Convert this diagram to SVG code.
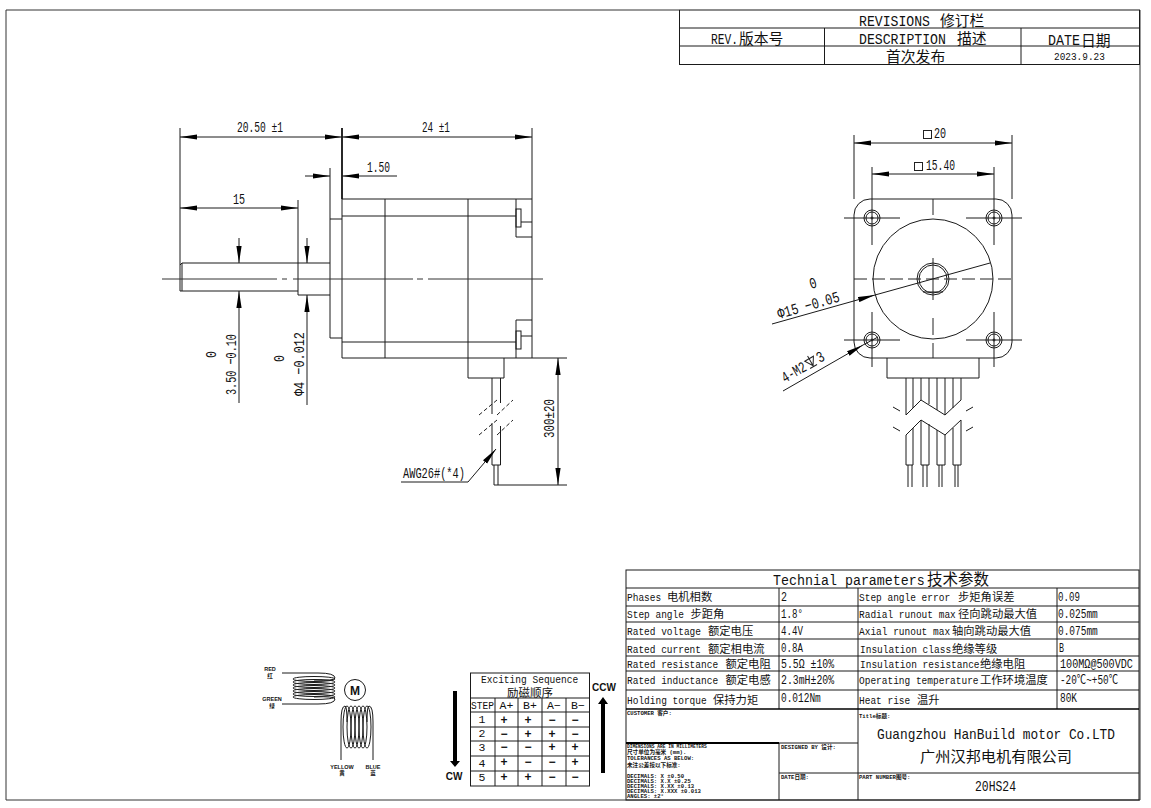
<svg xmlns="http://www.w3.org/2000/svg" width="1151" height="808" viewBox="0 0 1151 808">
<style>
text{fill:#111}
.l,.l line,.l path,.l rect,.l circle,.l ellipse{stroke:#1a1a1a;stroke-width:1;fill:none}
.g line,.g rect,.g path{stroke:#333;stroke-width:1;fill:none}
.b{stroke:#111;stroke-width:1.8;fill:none}
.d{stroke:#222;stroke-width:1;fill:none;stroke-dasharray:4 2.5}
.m{font-family:'Liberation Mono','Noto Sans CJK SC',monospace}
.c{font-family:'Noto Sans CJK SC',sans-serif}
.s{font-family:'Liberation Sans','Noto Sans CJK SC',sans-serif}
.r{font-size:15.500px}
.rc{font-size:14.800px}
.p{font-size:11.500px}
.pc{font-size:11.300px}
.v{font-size:12px}
.q{font-size:15.500px}
.t{font-size:5.600px;font-weight:700}
.k{font-size:5.500px;font-weight:700;text-anchor:middle}
.e{font-size:12px;font-weight:700;text-anchor:middle}
.f{font-size:11.500px;text-anchor:middle}
</style>
<defs>
<marker id="a" markerWidth="17" markerHeight="6" refX="17" refY="3" orient="auto-start-reverse" markerUnits="userSpaceOnUse"><path d="M0,0.400L17,3L0,5.600z" fill="#000"/></marker>
</defs>
<rect width="1151" height="808" fill="#fff"/>

<g id="frame" class="g">
<path d="M679,10H6V800H1140V10"/>
</g>

<g id="revisions">
<g class="l">
<rect x="679.500" y="10" width="460" height="54.500"/>
<line x1="680" y1="28" x2="1139" y2="28"/>
<line x1="680" y1="46" x2="1139" y2="46"/>
<line x1="824.500" y1="28" x2="824.500" y2="64"/>
<line x1="1021" y1="28" x2="1021" y2="64"/>
</g>
<text class="m r" transform="translate(859,26) scale(.848,1)">REVISIONS</text><text class="c rc" x="940" y="25.500">修订栏</text>
<text class="m r" transform="translate(711,43.500) scale(.726,1)">REV.</text><text class="c rc" x="739" y="43.500" font-size="15.500">版本号</text>
<text class="m r" transform="translate(859,43.500) scale(.85,1)">DESCRIPTION</text><text class="c rc" x="957" y="43.500">描述</text>
<text class="m r" transform="translate(1048,45) scale(.86,1)">DATE</text><text class="c rc" x="1081" y="45.500">日期</text>
<text class="c rc" x="886" y="62">首次发布</text>
<text class="m" font-size="11.500" transform="translate(1054,60) scale(.82,1)">2023.9.23</text>
</g>

<g id="side-view">
<g class="l">
<path d="M180,128V291M182,263V291M180,265L182,263M182,263H330M180,291H298M298,200V295H330"/>
<path d="M330,168V338H342M330,219H342"/>
<path d="M342,199V358M342,199H532M532,128V358M342,358H567"/>
<path d="M342,216H516M342,342H516M385,199V358M468,199V378M516,199V237H532M516,320V358M516,320H532"/>
<rect x="516" y="209" width="5" height="18"/><rect x="516" y="331" width="5" height="18"/>
<path d="M521,222H532M521,336H532"/>
<path d="M468,378H504V358"/>
<path d="M492,378V414M500.500,378V403M492,423V465M500.500,426V465M492,465H500.500"/>
<path d="M494,465V485M498,465V485M494,485H567"/>
</g>
<line class="b" x1="342" y1="128" x2="342" y2="199"/>
<path d="M162,279H277M282,279H287M293,279H413M417,279H423M428,279H543" stroke="#333" fill="none"/>
<path class="d" d="M479,415L497,400M497,415L513,400M479,435L497,420M497,435L513,420"/>
</g>

<g id="front-view">
<g class="l">
<path d="M870,199H996A16,16 0 0 1 1012,215V342A16,16 0 0 1 996,358H870A16,16 0 0 1 854,342V215A16,16 0 0 1 870,199Z"/>
<circle cx="933" cy="279" r="60"/><circle cx="933" cy="279" r="16"/><circle cx="933" cy="279" r="14"/>
<line x1="923" y1="292" x2="943" y2="292"/>
<circle cx="872" cy="218" r="8"/><circle cx="872" cy="218" r="6"/><circle cx="872" cy="218" r="1"/>
<circle cx="994" cy="218" r="8"/><circle cx="994" cy="218" r="6"/><circle cx="994" cy="218" r="1"/>
<circle cx="872" cy="340" r="8"/><circle cx="872" cy="340" r="6"/><circle cx="872" cy="340" r="1"/>
<circle cx="994" cy="340" r="8"/><circle cx="994" cy="340" r="6"/><circle cx="994" cy="340" r="1"/>
<path d="M844,218H900M966,218H1022M844,340H900M966,340H1022M872,167V245M994,167V245M872,312V367M994,312V367"/>
<path d="M887,358V378H979V358"/>
<path d="M906,378V415M913,378V408M921,378V400M929,378V404M937,378V410M945,378V415M953,378V408M961,378V400"/>
<path d="M906,415L921,400L945,415L961,400M906,435L921,420L945,435L961,420"/>
<path d="M906,435V465M913,428V465M921,420V465M929,424V465M937,430V465M945,435V465M953,428V465M961,420V465"/>
<path d="M906,465H913M921,465H929M937,465H945M953,465H961"/>
<path d="M908,465V487M912,465V487M923,465V487M927,465V487M939,465V487M942,465V487M955,465V487M958,465V487"/>
<path d="M893,407L900,411M973,407L966,411M893,427L900,431M973,427L966,431"/>
</g>
<path d="M854,279H1012" stroke="#222" fill="none" stroke-dasharray="13 5"/>
<path d="M933,199V215M933,258V300M933,318V335M933,343V358" stroke="#222" fill="none"/>
</g>

<g id="connectors" class="l">
<line x1="180" y1="137" x2="342" y2="137" marker-start="url(#a)" marker-end="url(#a)"/>
<line x1="342" y1="137" x2="532" y2="137" marker-start="url(#a)" marker-end="url(#a)"/>
<line x1="180" y1="208" x2="298" y2="208" marker-start="url(#a)" marker-end="url(#a)"/>
<line x1="305" y1="176" x2="330" y2="176" marker-end="url(#a)"/>
<line x1="397" y1="176" x2="342" y2="176" marker-end="url(#a)"/>
<line x1="239" y1="238" x2="239" y2="263" marker-end="url(#a)"/>
<line x1="239" y1="403" x2="239" y2="291" marker-end="url(#a)"/>
<line x1="307" y1="238" x2="307" y2="263" marker-end="url(#a)"/>
<line x1="307" y1="405" x2="307" y2="295" marker-end="url(#a)"/>
<line x1="558" y1="358" x2="558" y2="485" marker-start="url(#a)" marker-end="url(#a)"/>
<path d="M401,482H468L496,449" marker-end="url(#a)"/>
<line x1="854" y1="143" x2="1012" y2="143" marker-start="url(#a)" marker-end="url(#a)"/>
<line x1="872" y1="174" x2="994" y2="174" marker-start="url(#a)" marker-end="url(#a)"/>
<path d="M854,135V199M1012,135V199"/>
<line x1="772" y1="324" x2="875" y2="295" marker-end="url(#a)"/>
<line x1="875" y1="295" x2="990" y2="263"/>
<line x1="783" y1="391" x2="863" y2="345" marker-end="url(#a)"/>
<line x1="863" y1="345" x2="878" y2="337"/>
</g>

<g id="dimensions">
<text class="m q" transform="translate(237,132) scale(.62,1)">20.50 ±1</text>
<text class="m q" transform="translate(422,132) scale(.6,1)">24 ±1</text>
<text class="m q" transform="translate(367,172) scale(.62,1)">1.50</text>
<text class="m q" transform="translate(233,204) scale(.65,1)">15</text>
<text class="m q" transform="translate(216,358) rotate(-90) scale(.75,1)">0</text>
<text class="m q" transform="translate(236,395) rotate(-90) scale(.656,1)">3.50 −0.10</text>
<text class="m q" transform="translate(284,362) rotate(-90) scale(.75,1)">0</text>
<text class="m q" transform="translate(304,396) rotate(-90) scale(.765,1)">Φ4 −0.012</text>
<text class="m q" transform="translate(554,438) rotate(-90) scale(.7,1)">300±20</text>
<text class="m q" transform="translate(403,478) scale(.667,1)">AWG26#(*4)</text>
<rect x="923.500" y="130.500" width="8" height="8" fill="none" stroke="#222"/>
<text class="m q" transform="translate(934,138) scale(.65,1)">20</text>
<rect x="914.500" y="162.500" width="8" height="8" fill="none" stroke="#222"/>
<text class="m q" transform="translate(926,170) scale(.624,1)">15.40</text>
<text class="m q" transform="translate(811,289) rotate(-16) scale(.75,1)">0</text>
<text class="m q" transform="translate(779,319) rotate(-16) scale(.765,1)">Φ15 −0.05</text>
<g transform="translate(785,383) rotate(-30)">
<text class="m q" transform="scale(.7,1)">4-M2</text>
<path d="M28,-9H38L33,-1ZM33,-12V-1M29,0H37" fill="none" stroke="#222"/>
<text class="m q" transform="translate(40,0) scale(.75,1)">3</text>
</g>
</g>

<g id="coil">
<g class="l">
<path d="M282,673H318Q335,673 335,678Q335,681 314,680"/>
<ellipse cx="314" cy="679" rx="21" ry="2.500"/><ellipse cx="314" cy="682" rx="21" ry="2.500"/><ellipse cx="314" cy="685" rx="21" ry="2.500"/><ellipse cx="314" cy="688" rx="21" ry="2.500"/><ellipse cx="314" cy="691" rx="21" ry="2.500"/><ellipse cx="314" cy="694" rx="21" ry="2.500"/><ellipse cx="314" cy="697" rx="21" ry="2.500"/>
<path d="M282,704H318Q335,704 335,699Q335,696 314,697"/>
<circle cx="355" cy="690" r="10.500"/>
<path d="M341,760V722Q341,706 345,706Q347,706 347,722"/>
<ellipse cx="347" cy="727" rx="4" ry="21"/><ellipse cx="351" cy="727" rx="4" ry="21"/><ellipse cx="355" cy="727" rx="4" ry="21"/><ellipse cx="359" cy="727" rx="4" ry="21"/><ellipse cx="363" cy="727" rx="4" ry="21"/><ellipse cx="367" cy="727" rx="4" ry="21"/>
<path d="M373,760V722Q373,706 369,706Q367,706 367,722"/>
</g>
<text class="s" font-size="12" font-weight="700" text-anchor="middle" x="355" y="694.500">M</text>
<text class="s k" x="270" y="671">RED</text><text class="s k" x="270" y="678">红</text>
<text class="s k" x="272" y="701">GREEN</text><text class="s k" x="272" y="708">绿</text>
<text class="s k" x="342" y="769">YELLOW</text><text class="s k" x="342" y="775">黄</text>
<text class="s k" x="373" y="769">BLUE</text><text class="s k" x="373" y="775">蓝</text>
</g>

<g id="sequence">
<g class="l">
<rect x="470.500" y="673" width="119" height="113"/>
<path d="M470,698H590M470,712H590M470,727H590M470,741H590M470,756H590M470,771H590M495,698V786M518,698V786M542,698V786M566,698V786"/>
</g>
<path d="M453,691H457V761H460L455,767L450,761H453Z" fill="#000"/>
<path d="M601,773H605V704H608L603,697L598,704H601Z" fill="#000"/>
<text class="s" font-size="10" font-weight="700" text-anchor="middle" x="454" y="780">CW</text>
<text class="s" font-size="10" font-weight="700" text-anchor="middle" x="604" y="691">CCW</text>
<text class="m" font-size="11.500" transform="translate(481,683) scale(.83,1)">Exciting Sequence</text>
<text class="c" font-size="11.500" text-anchor="middle" x="530" y="697">励磁顺序</text>
<text class="m" font-size="11.500" transform="translate(471,709) scale(.83,1)">STEP</text>
<text class="m f" x="506.500" y="709">A+</text><text class="m f" x="530" y="709">B+</text><text class="m f" x="554" y="709">A−</text><text class="m f" x="578" y="709">B−</text>
<text class="m f" x="482" y="723">1</text><text class="m f" x="482" y="737">2</text><text class="m f" x="482" y="751">3</text><text class="m f" x="482" y="767">4</text><text class="m f" x="482" y="781">5</text>
<g class="s">
<text class="e" x="504" y="724">+</text><text class="e" x="528" y="724">+</text><text class="e" x="552" y="724">−</text><text class="e" x="575" y="724">−</text>
<text class="e" x="504" y="738">−</text><text class="e" x="528" y="738">+</text><text class="e" x="552" y="738">+</text><text class="e" x="575" y="738">−</text>
<text class="e" x="504" y="751">−</text><text class="e" x="528" y="751">−</text><text class="e" x="552" y="751">+</text><text class="e" x="575" y="751">+</text>
<text class="e" x="504" y="766">+</text><text class="e" x="528" y="766">−</text><text class="e" x="552" y="766">−</text><text class="e" x="575" y="766">+</text>
<text class="e" x="504" y="781">+</text><text class="e" x="528" y="781">+</text><text class="e" x="552" y="781">−</text><text class="e" x="575" y="781">−</text>
</g>
</g>

<g id="parameters">
<g class="l">
<rect x="626" y="570" width="513" height="230"/>
<path d="M626,588H1139M626,606H1139M626,622H1139M626,639H1139M626,656H1139M626,671H1139M626,690H1139M779,588V709M858,588V800M1057,588V709"/>
<path d="M779,743V800M779,773H1139M779,743H858"/>
</g>
<path d="M626,709H1139" stroke="#000" stroke-width="1.500"/>
<path d="M626,743H779" stroke="#000" stroke-width="1.800"/>
<text class="m" font-size="15.500" transform="translate(773,585) scale(.86,1)">Technial parameters</text><text class="c" font-size="15.500" x="927" y="585">技术参数</text>

<text class="m p" transform="translate(627,601) scale(.826,1)">Phases</text><text class="c pc" x="667" y="601">电机相数</text>
<text class="m p" transform="translate(627,618) scale(.826,1)">Step angle</text><text class="c pc" x="690.500" y="618">步距角</text>
<text class="m p" transform="translate(627,635) scale(.826,1)">Rated voltage</text><text class="c pc" x="708" y="635">额定电压</text>
<text class="m p" transform="translate(627,653) scale(.826,1)">Rated current</text><text class="c pc" x="708" y="653">额定相电流</text>
<text class="m p" transform="translate(627,668) scale(.826,1)">Rated resistance</text><text class="c pc" x="725.500" y="668">额定电阻</text>
<text class="m p" transform="translate(627,684) scale(.826,1)">Rated inductance</text><text class="c pc" x="725.500" y="684">额定电感</text>
<text class="m p" transform="translate(627,704) scale(.826,1)">Holding torque</text><text class="c pc" x="713" y="704">保持力矩</text>

<g class="m v">
<text transform="translate(781,601) scale(.83,1)">2</text><text transform="translate(781,618) scale(.76,1)">1.8°</text><text transform="translate(781,635) scale(.76,1)">4.4V</text><text transform="translate(781,652) scale(.76,1)">0.8A</text><text transform="translate(781,668) scale(.82,1)">5.5Ω ±10%</text><text transform="translate(781,684) scale(.82,1)">2.3mH±20%</text><text transform="translate(781,702) scale(.79,1)">0.012Nm</text>
</g>

<text class="m p" transform="translate(859,601) scale(.826,1)">Step angle error</text><text class="c pc" x="958" y="601">步矩角误差</text>
<text class="m p" transform="translate(859,618) scale(.826,1)">Radial runout max</text><text class="c pc" x="958" y="618">径向跳动最大值</text>
<text class="m p" transform="translate(859,635) scale(.826,1)">Axial runout max</text><text class="c pc" x="952" y="635">轴向跳动最大值</text>
<text class="m p" transform="translate(860,653) scale(.826,1)">Insulation class</text><text class="c pc" x="952" y="653">绝缘等级</text>
<text class="m p" transform="translate(860,668) scale(.826,1)">Insulation resistance</text><text class="c pc" x="980" y="668">绝缘电阻</text>
<text class="m p" transform="translate(859,684) scale(.826,1)">Operating temperature</text><text class="c pc" x="980" y="684">工作环境温度</text>
<text class="m p" transform="translate(859,704) scale(.826,1)">Heat rise</text><text class="c pc" x="917" y="704">温升</text>

<g class="m v">
<text transform="translate(1058,601) scale(.76,1)">0.09</text><text transform="translate(1058,618) scale(.79,1)">0.025mm</text><text transform="translate(1058,635) scale(.79,1)">0.075mm</text><text transform="translate(1059,652) scale(.7,1)">B</text><text transform="translate(1060,668) scale(.845,1)">100MΩ@500VDC</text><text transform="translate(1060,684) scale(.78,1)">-20℃~+50℃</text><text transform="translate(1060,702) scale(.79,1)">80K</text>
</g>
</g>

<g id="title-block">
<g class="m">
<text class="t" x="627" y="715">CUSTOMER 客户:</text>
<text class="t" transform="translate(627,748) scale(.82,1)">DIMENSIONS ARE IN MILLIMETERS</text>
<text class="t" x="627" y="754">尺寸单位为毫米 (mm).</text>
<text class="t" x="627" y="760">TOLERANCES AS BELOW:</text>
<text class="t" x="627" y="767">未注公差按以下标准:</text>
<text class="t" x="627" y="778">DECIMALS: X    ±0.50</text>
<text class="t" x="627" y="783">DECIMALS: X.X  ±0.25</text>
<text class="t" x="627" y="788">DECIMALS: X.XX ±0.13</text>
<text class="t" x="627" y="793">DECIMALS: X.XXX ±0.013</text>
<text class="t" x="627" y="798">ANGLES:  ±2°</text>
<text class="t" x="781" y="749">DESIGNED BY 设计:</text>
<text class="t" x="781" y="779">DATE日期:</text>
<text class="t" x="859" y="779">PART NUMBER图号:</text>
<text class="t" x="859" y="718">Title标题:</text>
</g>
<text class="m" font-size="15" transform="translate(877,739) scale(.853,1)">Guangzhou HanBuild motor Co.LTD</text>
<text class="c" font-size="15.200" text-anchor="middle" x="996" y="762">广州汉邦电机有限公司</text>
<text class="m" font-size="15" transform="translate(975,791) scale(.76,1)">20HS24</text>
</g>
</svg>
